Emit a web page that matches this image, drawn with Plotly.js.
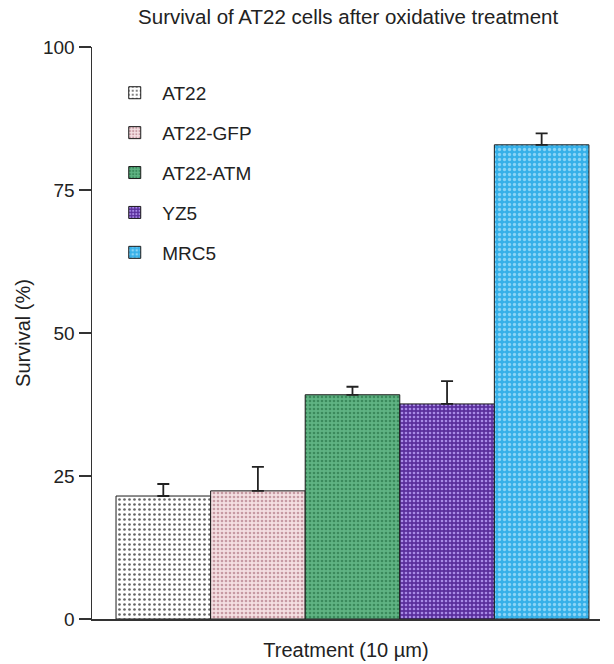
<!DOCTYPE html>
<html>
<head>
<meta charset="utf-8">
<script src="https://cdn.plot.ly/plotly-3.0.1.min.js"></script>
<style>html,body{margin:0;padding:0;background:#fff;}#chart{width:614px;height:664px;}</style>
</head>
<body>
<div id="chart"></div>
<script>
const categories = ['AT22', 'AT22-GFP', 'AT22-ATM', 'YZ5', 'MRC5'];
const survival = [21.5, 22.4, 39.2, 37.6, 82.9];
const errorUp = [2.1, 4.2, 1.4, 4.0, 2.0];
const bgColors = ['#ffffff', '#f4dfe2', '#5fb383', '#5a2f9c', '#36b0e8'];
const dotColors = ['#666666', '#c79aa3', '#3b8a5c', '#a88ae6', '#8ad4f6'];
const dotSizes = [5, 4, 4, 4, 5];
const dotSolidity = [0.22, 0.35, 0.35, 0.35, 0.35];

const traces = categories.map((c, i) => ({
  type: 'bar',
  name: c,
  x: [i],
  y: [survival[i]],
  width: 1,
  legendgroup: 'g' + i,
  marker: {
    color: bgColors[i],
    line: {color: '#1a1a1a', width: 1},
    pattern: {shape: '.', fgcolor: dotColors[i], bgcolor: bgColors[i], size: dotSizes[i], solidity: dotSolidity[i], fillmode: 'replace'}
  },
  error_y: {type: 'data', symmetric: false, array: [errorUp[i]], arrayminus: [0], color: '#222', thickness: 1.8, width: 6}
}));

const layout = {
  width: 614, height: 664,
  margin: {l: 92, r: 14, t: 47, b: 45},
  paper_bgcolor: '#fff', plot_bgcolor: '#fff',
  font: {family: 'Liberation Sans, Arial, sans-serif', color: '#222', size: 19},
  title: {text: 'Survival of AT22 cells after oxidative treatment', x: 0.567, xanchor: 'center', y: 0.974, yanchor: 'middle', font: {size: 20.5, color: '#222'}},
  barmode: 'overlay',
  showlegend: true,
  legend: {x: 0.03, y: 0.953, xanchor: 'left', yanchor: 'top', traceorder: 'grouped', tracegroupgap: 12.2, itemwidth: 45, font: {size: 19, color: '#222'}, bgcolor: 'rgba(0,0,0,0)'},
  xaxis: {range: [-0.754, 4.617], showgrid: false, zeroline: false, showline: true, linecolor: '#333', linewidth: 1.5, showticklabels: false, ticks: '', fixedrange: true,
    title: {text: 'Treatment (10 µm)', font: {size: 20, color: '#222'}, standoff: 23}},
  yaxis: {range: [0, 100], tickvals: [0, 25, 50, 75, 100], showgrid: false, zeroline: false, showline: true, linecolor: '#333', linewidth: 1.5,
    ticks: 'outside', ticklen: 12, tickwidth: 1.5, tickcolor: '#333', tickfont: {size: 19, color: '#222'},
    title: {text: 'Survival (%)', font: {size: 20, color: '#222'}, standoff: 7}}
};

Plotly.newPlot('chart', traces, layout, {displayModeBar: false, staticPlot: true});
</script>
</body>
</html>
